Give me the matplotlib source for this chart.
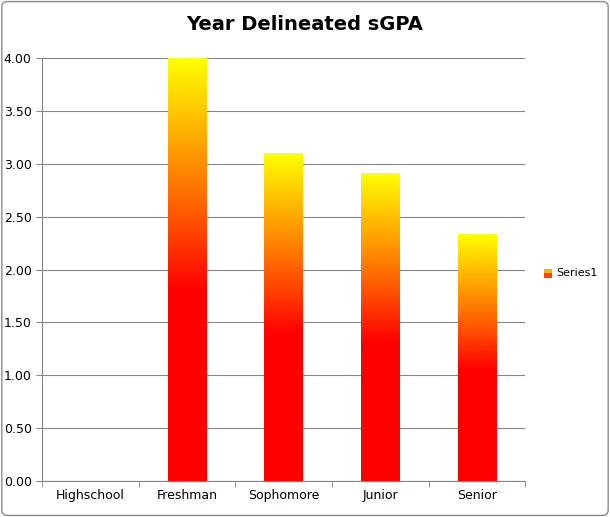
import numpy as np
import matplotlib.pyplot as plt
from matplotlib.colors import LinearSegmentedColormap
from matplotlib.patches import Rectangle, FancyBboxPatch

categories = ['Highschool', 'Freshman', 'Sophomore', 'Junior', 'Senior']
sgpa = [0.0, 4.00, 3.10, 2.91, 2.33]

cmap = LinearSegmentedColormap.from_list(
    'redyellow', [(0.0, '#ff0000'), (0.45, '#ff0000'), (0.6, '#ff4a00'),
                  (0.8, '#ffa500'), (1.0, '#ffff00')])

fig = plt.figure(figsize=(6.10, 5.17), dpi=100)
fig.patches.append(FancyBboxPatch((0.003, 0.003), 0.994, 0.994, boxstyle='round,pad=0,rounding_size=0.01',
                                  transform=fig.transFigure, fill=False, ec='#8c8c8c', lw=1))
ax = fig.add_axes([0.069, 0.0696, 0.792, 0.818])

grad = np.linspace(0, 1, 256).reshape(-1, 1)
width = 0.4
for i, v in enumerate(sgpa):
    if v <= 0:
        continue
    ax.imshow(grad, cmap=cmap, origin='lower', aspect='auto',
              extent=(i - width / 2, i + width / 2, 0, v), zorder=2)

ax.set_xlim(-0.5, len(categories) - 0.5)
ax.set_ylim(0, 4.0)
ax.set_xticks(range(len(categories)))
ax.set_xticklabels(categories, fontsize=9, family='DejaVu Sans')
ax.set_yticks(np.arange(0, 4.01, 0.5))
ax.set_yticklabels([f'{t:.2f}' for t in np.arange(0, 4.01, 0.5)], fontsize=9)
ax.grid(axis='y', color='#868686', lw=0.8, zorder=0)
for s in ['top', 'right']:
    ax.spines[s].set_visible(False)
ax.spines['left'].set_color('#868686')
ax.spines['bottom'].set_color('#868686')
ax.tick_params(axis='y', length=4, color='#868686')
ax.tick_params(axis='x', length=0, pad=6)
ax.set_xticks(np.arange(-0.5, len(categories)), minor=True)
ax.tick_params(axis='x', which='minor', length=4, color='#868686')

fig.text(0.5, 0.952, 'Year Delineated sGPA', ha='center', va='center',
         fontsize=14, fontweight='bold')

# legend
lx, ly = 0.892, 0.463
fig.add_artist(Rectangle((lx, ly), 0.013, 0.016, transform=fig.transFigure, fc='#ff4000', ec='none'))
fig.add_artist(Rectangle((lx, ly + 0.008), 0.013, 0.008, transform=fig.transFigure, fc='#ffb000', ec='none'))
fig.text(lx + 0.02, ly + 0.008, 'Series1', fontsize=8, va='center')

fig.savefig('out.png', dpi=100)
